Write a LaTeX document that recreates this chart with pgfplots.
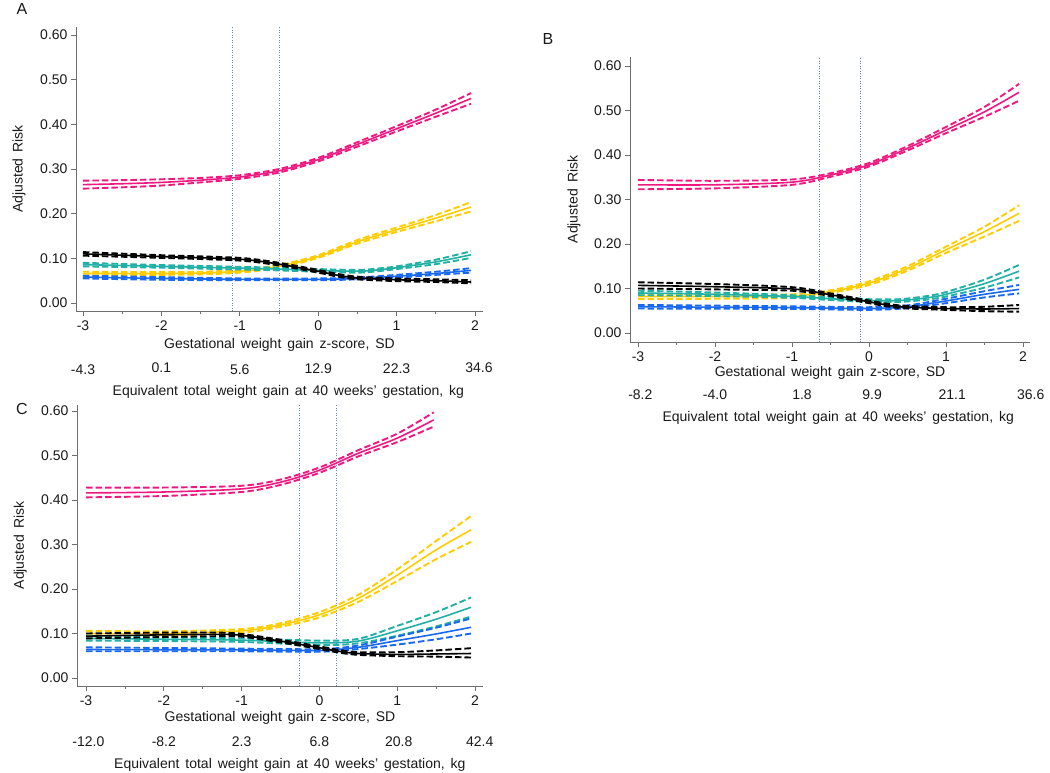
\documentclass[border=0pt]{standalone}
\usepackage{fontspec}
\setmainfont{Liberation Sans}
\usepackage{pgfplots}
\usepackage{pgfplotstable}
\pgfplotsset{compat=1.18}

\definecolor{cM}{RGB}{240,24,128}
\definecolor{cY}{RGB}{255,204,0}
\definecolor{cT}{RGB}{32,176,166}
\definecolor{cB}{RGB}{24,104,240}
\definecolor{cK}{RGB}{0,0,0}
\definecolor{cV}{RGB}{90,135,205}
\definecolor{cAx}{RGB}{110,110,110}

% ---------------- Panel A ----------------
\pgfplotstableread{
x e l h
-3 0.265 0.256 0.274
-2.5 0.267 0.259 0.275
-2 0.270 0.263 0.277
-1.5 0.275 0.270 0.280
-1 0.282 0.278 0.286
-0.5 0.296 0.292 0.300
0 0.321 0.317 0.325
0.5 0.355 0.350 0.360
1 0.390 0.384 0.396
1.5 0.425 0.417 0.433
1.95 0.458 0.446 0.470
}\AM
\pgfplotstableread{
x e l h
-3 0.066 0.062 0.070
-2 0.066 0.063 0.069
-1.5 0.067 0.064 0.070
-1 0.071 0.068 0.074
-0.5 0.082 0.079 0.085
0 0.104 0.101 0.107
0.5 0.137 0.133 0.141
1 0.164 0.159 0.169
1.5 0.190 0.183 0.197
1.95 0.215 0.205 0.226
}\AY
\pgfplotstableread{
x e l h
-3 0.086 0.082 0.090
-2 0.082 0.079 0.085
-1 0.078 0.075 0.081
-0.5 0.076 0.073 0.079
0 0.073 0.070 0.076
0.5 0.071 0.068 0.074
0.75 0.074 0.071 0.077
1 0.079 0.076 0.082
1.5 0.092 0.087 0.097
1.95 0.108 0.101 0.116
}\AT
\pgfplotstableread{
x e l h
-3 0.058 0.055 0.061
-2 0.055 0.052 0.058
-1 0.053 0.051 0.055
0 0.053 0.051 0.055
0.5 0.055 0.053 0.057
1 0.060 0.057 0.063
1.5 0.066 0.063 0.070
1.95 0.073 0.068 0.078
}\AB
\pgfplotstableread{
x e l h
-3 0.110 0.106 0.114
-2 0.104 0.101 0.107
-1 0.098 0.095 0.101
-0.5 0.087 0.084 0.090
0 0.071 0.068 0.074
0.25 0.062 0.059 0.065
0.5 0.056 0.053 0.059
1 0.052 0.049 0.055
1.5 0.050 0.047 0.053
1.95 0.047 0.044 0.051
}\AK

% ---------------- Panel B ----------------
\pgfplotstableread{
x e l h
-3 0.333 0.323 0.344
-2 0.333 0.325 0.342
-1 0.339 0.333 0.345
-0.5 0.355 0.351 0.359
0 0.378 0.374 0.382
0.5 0.415 0.410 0.420
1 0.456 0.449 0.463
1.5 0.497 0.486 0.508
1.95 0.541 0.522 0.560
}\BM
\pgfplotstableread{
x e l h
-3 0.082 0.076 0.088
-2 0.082 0.077 0.087
-1 0.083 0.079 0.087
-0.5 0.093 0.090 0.096
0 0.112 0.108 0.116
0.5 0.145 0.140 0.150
1 0.187 0.180 0.194
1.5 0.228 0.217 0.239
1.95 0.269 0.252 0.287
}\BY
\pgfplotstableread{
x e l h
-3 0.090 0.085 0.095
-2 0.087 0.083 0.091
-1 0.082 0.079 0.085
-0.5 0.077 0.074 0.080
0 0.073 0.070 0.076
0.4 0.073 0.070 0.076
0.75 0.079 0.075 0.083
1 0.087 0.082 0.092
1.5 0.111 0.102 0.120
1.95 0.139 0.125 0.153
}\BT
\pgfplotstableread{
x e l h
-3 0.059 0.055 0.063
-1 0.057 0.054 0.060
0 0.055 0.052 0.058
0.5 0.059 0.056 0.062
1 0.072 0.067 0.077
1.5 0.087 0.080 0.094
1.95 0.098 0.089 0.108
}\BB
\pgfplotstableread{
x e l h
-3 0.107 0.100 0.114
-2 0.104 0.098 0.110
-1 0.099 0.095 0.103
-0.5 0.086 0.083 0.089
0 0.070 0.067 0.073
0.3 0.061 0.058 0.064
0.5 0.058 0.055 0.061
1 0.055 0.052 0.058
1.5 0.054 0.049 0.059
1.95 0.055 0.048 0.063
}\BK

% ---------------- Panel C ----------------
\pgfplotstableread{
x e l h
-3 0.416 0.406 0.428
-2 0.418 0.409 0.428
-1 0.425 0.418 0.432
-0.5 0.440 0.434 0.446
0 0.467 0.461 0.473
0.5 0.505 0.498 0.512
1 0.539 0.530 0.549
1.47 0.580 0.565 0.597
}\CM
\pgfplotstableread{
x e l h
-3 0.100 0.094 0.106
-2 0.100 0.095 0.105
-1 0.106 0.102 0.110
-0.5 0.119 0.115 0.123
0 0.142 0.136 0.148
0.5 0.179 0.171 0.187
1 0.231 0.218 0.244
1.5 0.288 0.267 0.308
1.95 0.333 0.306 0.364
}\CY
\pgfplotstableread{
x e l h
-3 0.089 0.084 0.094
-2 0.087 0.083 0.091
-1 0.085 0.081 0.089
0 0.079 0.074 0.084
0.5 0.083 0.078 0.088
1 0.106 0.095 0.117
1.5 0.132 0.116 0.148
1.95 0.159 0.138 0.181
}\CT
\pgfplotstableread{
x e l h
-3 0.064 0.060 0.069
-1 0.063 0.060 0.066
0 0.062 0.059 0.065
0.5 0.069 0.065 0.073
1 0.084 0.075 0.093
1.5 0.099 0.087 0.113
1.95 0.114 0.100 0.134
}\CB
\pgfplotstableread{
x e l h
-3 0.094 0.089 0.100
-2 0.097 0.092 0.102
-1.3 0.098 0.094 0.102
-1 0.096 0.093 0.099
-0.5 0.083 0.080 0.086
0 0.068 0.065 0.071
0.25 0.060 0.057 0.063
0.5 0.055 0.052 0.058
1 0.053 0.049 0.058
1.5 0.054 0.048 0.062
1.95 0.055 0.046 0.067
}\CK

\newcommand{\fs}{\fontsize{14}{16}\selectfont\spaceskip=0.42em plus 0.1em\relax}
\newcommand{\series}[2]{%
  \addplot[#1, line width=1.6pt, smooth] table[x=x,y=e]{#2};
  \addplot[#1, line width=1.9pt, dash pattern=on 6.5pt off 3pt, smooth] table[x=x,y=l]{#2};
  \addplot[#1, line width=1.9pt, dash pattern=on 6.5pt off 3pt, smooth] table[x=x,y=h]{#2};
}

\pgfplotsset{
  panel/.style={
    scale only axis, anchor=south west, clip=false,
    axis lines*=left,
    axis line style={-, draw=cAx, line width=0.8pt},
    tick align=outside,
    major tick length=5pt, minor tick length=3pt,
    every tick/.style={draw=cAx, line width=0.7pt},
    xtick={-3,-2,-1,0,1,2},
    xticklabels={-3,-2,-1,0,1,2},
    minor x tick num=1,
    ytick={0,0.1,0.2,0.3,0.4,0.5,0.6},
    yticklabels={0.00,0.10,0.20,0.30,0.40,0.50,0.60},
    tick label style={font=\fs, text=black!90},
    xticklabel style={yshift=-1pt},
    label style={font=\fs, text=black!90},
    xlabel={Gestational weight gain z-score, SD},
    ylabel={Adjusted Risk},
    ylabel style={at={(axis description cs:-0.14,0.5)}, anchor=center, rotate=0},
  }
}

\begin{document}
\begin{tikzpicture}
\path[use as bounding box] (0,0) rectangle (1050pt,-773pt);

% Panel labels
\node[font=\fontsize{16}{18}\selectfont, text=black!90] at (22pt,-9pt) {A};
\node[font=\fontsize{16}{18}\selectfont, text=black!90] at (548pt,-39pt) {B};
\node[font=\fontsize{16}{18}\selectfont, text=black!90] at (22pt,-409pt) {C};

% ---------- A ----------
\begin{axis}[panel, at={(76pt,-311pt)}, width=407pt, height=284pt,
  xmin=-3.089, xmax=2.102, ymin=-0.0179, ymax=0.6179,
  xlabel style={at={(axis description cs:0.5,-0.12)}, anchor=center}]
  \addplot[cV, line width=0.9pt, dash pattern=on 1pt off 1.5pt] coordinates {(-1.10,-0.0179) (-1.10,0.6179)};
  \addplot[cV, line width=0.9pt, dash pattern=on 1pt off 1.5pt] coordinates {(-0.50,-0.0179) (-0.50,0.6179)};
  \series{cM}{\AM}
  \series{cY}{\AY}
  \series{cT}{\AT}
  \series{cB}{\AB}
  \series{cK}{\AK}
  \node[font=\fs, text=black!90] at (axis cs:-3,-0.0179) [yshift=-59pt] {-4.3};
  \node[font=\fs, text=black!90] at (axis cs:-2,-0.0179) [yshift=-57pt] {0.1};
  \node[font=\fs, text=black!90] at (axis cs:-1,-0.0179) [yshift=-59pt] {5.6};
  \node[font=\fs, text=black!90] at (axis cs:0,-0.0179) [yshift=-58pt] {12.9};
  \node[font=\fs, text=black!90] at (axis cs:1,-0.0179) [yshift=-58pt] {22.3};
  \node[font=\fs, text=black!90] at (axis cs:2.05,-0.0179) [yshift=-57pt] {34.6};
  \node[font=\fs, text=black!90] at (axis cs:-0.38,-0.0179) [yshift=-81pt] {Equivalent total weight gain at 40 weeks' gestation, kg};
\end{axis}

% ---------- B ----------
\begin{axis}[panel, at={(630pt,-342pt)}, width=400pt, height=285pt,
  xmin=-3.104, xmax=2.091, ymin=-0.0202, ymax=0.6202,
  xlabel style={at={(axis description cs:0.5,-0.108)}, anchor=center}]
  \addplot[cV, line width=0.9pt, dash pattern=on 1pt off 1.5pt] coordinates {(-0.645,-0.0202) (-0.645,0.6202)};
  \addplot[cV, line width=0.9pt, dash pattern=on 1pt off 1.5pt] coordinates {(-0.113,-0.0202) (-0.113,0.6202)};
  \series{cM}{\BM}
  \series{cY}{\BY}
  \series{cT}{\BT}
  \series{cB}{\BB}
  \series{cK}{\BK}
  \node[font=\fs, text=black!90] at (axis cs:-2.97,-0.0202) [yshift=-53pt] {-8.2};
  \node[font=\fs, text=black!90] at (axis cs:-2,-0.0202) [yshift=-53pt] {-4.0};
  \node[font=\fs, text=black!90] at (axis cs:-0.87,-0.0202) [yshift=-53pt] {1.8};
  \node[font=\fs, text=black!90] at (axis cs:0.04,-0.0202) [yshift=-53pt] {9.9};
  \node[font=\fs, text=black!90] at (axis cs:1.08,-0.0202) [yshift=-53pt] {21.1};
  \node[font=\fs, text=black!90] at (axis cs:2.1,-0.0202) [yshift=-53pt] {36.6};
  \node[font=\fs, text=black!90] at (axis cs:-0.40,-0.0202) [yshift=-76pt] {Equivalent total weight gain at 40 weeks' gestation, kg};
\end{axis}

% ---------- C ----------
\begin{axis}[panel, at={(77pt,-686pt)}, width=406pt, height=281pt,
  xmin=-3.116, xmax=2.103, ymin=-0.018, ymax=0.6135,
  xlabel style={at={(axis description cs:0.5,-0.114)}, anchor=center}]
  \addplot[cV, line width=0.9pt, dash pattern=on 1pt off 1.5pt] coordinates {(-0.253,-0.018) (-0.253,0.6135)};
  \addplot[cV, line width=0.9pt, dash pattern=on 1pt off 1.5pt] coordinates {(0.222,-0.018) (0.222,0.6135)};
  \series{cM}{\CM}
  \series{cY}{\CY}
  \series{cT}{\CT}
  \series{cB}{\CB}
  \series{cK}{\CK}
  \node[font=\fs, text=black!90] at (axis cs:-2.97,-0.018) [yshift=-56pt] {-12.0};
  \node[font=\fs, text=black!90] at (axis cs:-2,-0.018) [yshift=-56pt] {-8.2};
  \node[font=\fs, text=black!90] at (axis cs:-1,-0.018) [yshift=-56pt] {2.3};
  \node[font=\fs, text=black!90] at (axis cs:0,-0.018) [yshift=-56pt] {6.8};
  \node[font=\fs, text=black!90] at (axis cs:1.02,-0.018) [yshift=-56pt] {20.8};
  \node[font=\fs, text=black!90] at (axis cs:2.06,-0.018) [yshift=-56pt] {42.4};
  \node[font=\fs, text=black!90] at (axis cs:-0.38,-0.018) [yshift=-79pt] {Equivalent total weight gain at 40 weeks' gestation, kg};
\end{axis}
\end{tikzpicture}
\end{document}
